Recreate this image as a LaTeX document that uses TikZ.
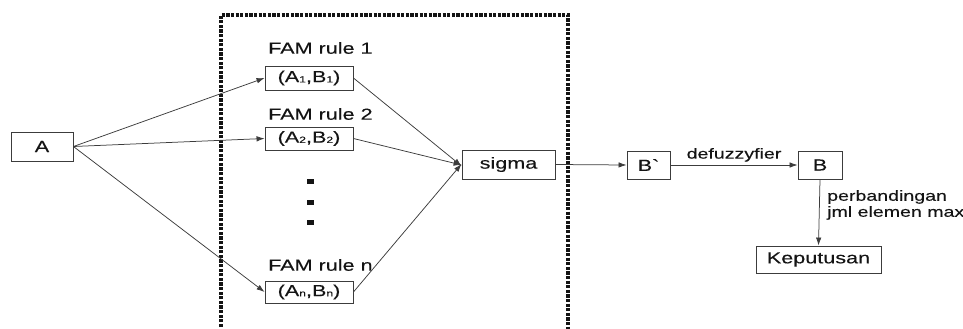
\documentclass[tikz,border=0pt]{standalone}
\usepackage{fontspec}
\setmainfont{Liberation Sans}[FakeStretch=1.35,FakeBold=0.2]
\newfontfamily\rawfont{Liberation Sans}[FakeStretch=1.35,FakeBold=0.2]
\usetikzlibrary{arrows.meta}
\definecolor{ink}{HTML}{141414}
\definecolor{edge}{HTML}{3C3C3C}
\newcommand{\sbs}[1]{\raisebox{-0.3pt}{\fontsize{9}{9}\selectfont #1}}
\tikzset{
  box/.style={draw=edge, line width=0.9pt, rectangle, inner sep=0pt, text=ink,
              font=\fontsize{16}{16}\selectfont},
  lbl/.style={inner sep=0pt, text=ink, font=\fontsize{16}{16}\selectfont},
  small/.style={inner sep=0pt, text=ink, font=\fontsize{14.5}{16}\selectfont},
  link/.style={draw=edge, line width=0.75pt, -{Latex[length=8pt,width=5.5pt]}},
  frame/.style={draw=ink, line width=3.6pt, dash pattern=on 3.2pt off 1.4pt},
  dot/.style={fill=ink, draw=none, minimum width=7pt, minimum height=5pt, inner sep=0pt}
}
\begin{document}
\begin{tikzpicture}[x=1pt, y=-1pt]
\useasboundingbox (0,0) rectangle (963,329);

% dotted frame around the rule bank (open at the bottom)
\draw[frame] (221,327) -- (221,15) -- (568,15) -- (568,329);

% input
\node[box, minimum width=62pt, minimum height=29pt] (A) at (42,146.5) {A};

% FAM rules
\node[lbl, anchor=west] (L1) at (268,48) {FAM rule 1};
\node[box, minimum width=88pt, minimum height=24pt] (F1) at (309,78) {(A\sbs{1},B\sbs{1})};
\node[lbl, anchor=west] (L2) at (268,114) {FAM rule 2};
\node[box, minimum width=88pt, minimum height=23pt] (F2) at (309,138.5) {(A\sbs{2},B\sbs{2})};
\node[lbl, anchor=west] (Ln) at (268,265) {FAM rule n};
\node[box, minimum width=88pt, minimum height=22pt] (Fn) at (309,292) {(A\sbs{n},B\sbs{n})};

% vertical ellipsis
\node[dot] (d1) at (310,181) {};
\node[dot] (d2) at (310,202) {};
\node[dot] (d3) at (310,222) {};

% aggregation and output chain
\node[box, minimum width=93pt, minimum height=29pt] (S) at (508.5,164.5) {sigma};
\node[box, minimum width=43pt, minimum height=28pt] (Bp) at (648.5,165) {B{\rawfont `}};
\node[box, minimum width=44pt, minimum height=28pt] (B) at (820,165) {B};
\node[box, minimum width=125pt, minimum height=27pt] (K) at (818.5,259.5) {Keputusan};

% connectors
\draw[link] (A.east) -- (F1.west);
\draw[link] (A.east) -- (F2.west);
\draw[link] (A.east) -- (Fn.west);
\draw[link] (F1.east) -- ([yshift=-1.5pt]S.west);
\draw[link] (F2.east) -- ([yshift=-0.5pt]S.west);
\draw[link] (Fn.east) -- ([yshift=0.5pt]S.west);
\draw[link] (S.east) -- (Bp.west);
\draw[link] (Bp.east) -- node[small, above=3pt] (df) {defuzzyfier} (B.west);
\draw[link] (B.south) -- (K.north);
\node[small, anchor=west, align=left] (cmp) at (827,205) {perbandingan\\jml elemen max};
\end{tikzpicture}
\end{document}
